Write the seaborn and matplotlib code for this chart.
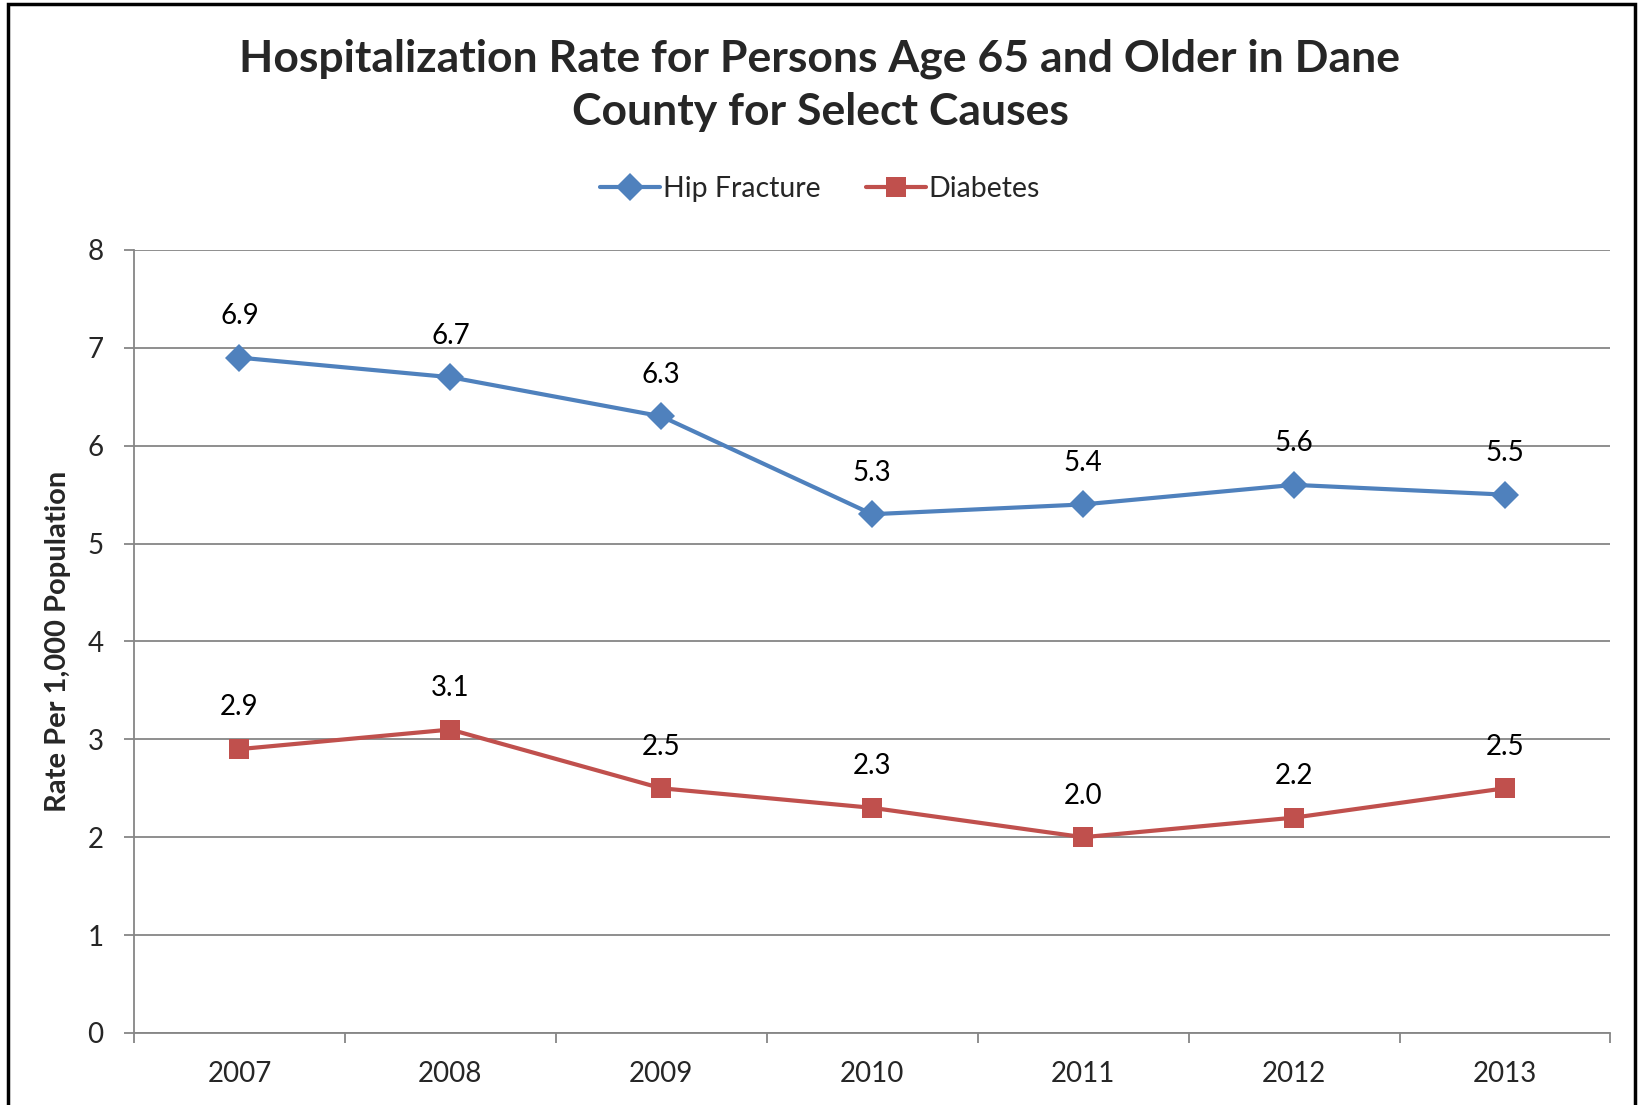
"""
Hospitalization rate for persons age 65+ in Dane County, select causes
"""
import pandas as pd
import matplotlib
matplotlib.use("Agg")
import matplotlib.pyplot as plt
from matplotlib.patches import Rectangle
import seaborn as sns

years = ["2007", "2008", "2009", "2010", "2011", "2012", "2013"]
hip_fracture = [6.9, 6.7, 6.3, 5.3, 5.4, 5.6, 5.5]
diabetes = [2.9, 3.1, 2.5, 2.3, 2.0, 2.2, 2.5]
causes = ["Hip Fracture", "Diabetes"]
y_ticks = [0, 1, 2, 3, 4, 5, 6, 7, 8]

df = pd.DataFrame({
    "Year": years * 2,
    "Rate": hip_fracture + diabetes,
    "Cause": [causes[0]] * len(years) + [causes[1]] * len(years),
})

sns.set_style("white")
plt.rcParams["font.family"] = ["Lato", "DejaVu Sans"]

colors = {"Hip Fracture": "#4F81BD", "Diabetes": "#C0504D"}
markers = {"Hip Fracture": "D", "Diabetes": "s"}
grid_col = "#868686"

fig = plt.figure(figsize=(16.4, 11.05), dpi=100)
ax = fig.add_axes([0.0817, 0.0652, 0.9003, 0.7086])

# ---------- lines ----------
sns.lineplot(data=df, x="Year", y="Rate", hue="Cause", style="Cause",
             palette=colors, markers=markers, dashes=False, lw=3,
             markersize=14, markeredgewidth=0, ax=ax, sort=False)

# ---------- data labels ----------
for cause in causes:
    sub = df[df["Cause"] == cause].reset_index(drop=True)
    for i, v in enumerate(sub["Rate"]):
        ax.annotate(f"{v:.1f}", (i, v), xytext=(0, 30), textcoords="offset points",
                    ha="center", va="center", fontsize=20, color="black")

# ---------- axes ----------
ax.set_xlim(-0.5, len(years) - 0.5)
ax.set_ylim(0, 8)
ax.set_yticks(y_ticks)
ax.set_yticklabels([str(t) for t in y_ticks], fontsize=20)
ax.set_xticks(range(len(years)))
ax.set_xticklabels(years, fontsize=20)
ax.set_xticks([i - 0.5 for i in range(len(years) + 1)], minor=True)
ax.tick_params(axis="x", which="major", bottom=False, length=0, pad=20)
ax.tick_params(axis="x", which="minor", bottom=True, length=7, width=1.3, color=grid_col)
ax.tick_params(axis="y", which="major", left=True, length=7, width=1.3, color=grid_col, pad=15)
ax.yaxis.grid(True, color=grid_col, lw=1.3)
ax.set_axisbelow(True)
for side in ["top", "right"]:
    ax.spines[side].set_visible(False)
for side in ["left", "bottom"]:
    ax.spines[side].set_color(grid_col)
    ax.spines[side].set_linewidth(1.3)
ax.set_xlabel("")
ax.set_ylabel("Rate Per 1,000 Population", fontsize=21, fontweight="bold", labelpad=12)

# ---------- legend ----------
handles, labels = ax.get_legend_handles_labels()
ax.legend(handles, labels, loc="center", bbox_to_anchor=(0.5, 0.829),
          bbox_transform=fig.transFigure, ncol=2, frameon=False, fontsize=20.5,
          handlelength=2.1, handletextpad=0.1, columnspacing=1.6, markerscale=1.0)

fig.text(0.5, 0.923, "Hospitalization Rate for Persons Age 65 and Older in Dane\nCounty for Select Causes",
         ha="center", va="center", fontsize=32, fontweight="bold", linespacing=1.38)

# figure border
fig.patches.append(Rectangle((0.005, -0.01), 0.992, 1.006, transform=fig.transFigure,
                             fill=False, edgecolor="black", lw=2.5))

plt.savefig("out.png", dpi=100)
plt.close()
